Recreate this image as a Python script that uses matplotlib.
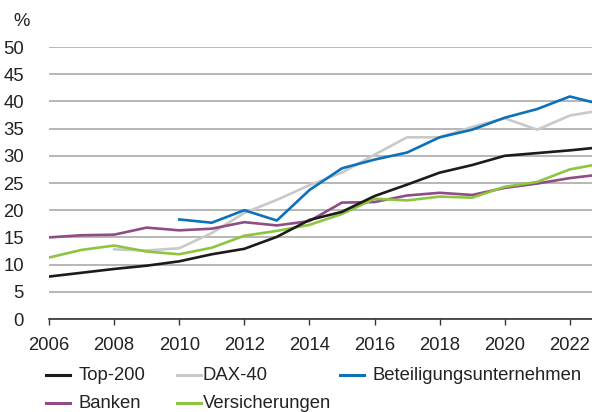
import matplotlib
matplotlib.use("Agg")
import matplotlib.pyplot as plt
from matplotlib.lines import Line2D

plt.rcParams['font.family'] = ['Liberation Sans', 'DejaVu Sans']

years = list(range(2006, 2024))
top200 = [7.8, 8.5, 9.2, 9.8, 10.6, 11.9, 12.9, 15.1, 18.2, 19.7, 22.6, 24.7, 26.9, 28.3, 30.0, 30.5, 31.0, 31.6]
dax_years = list(range(2008, 2024))
dax40 = [12.8, 12.6, 13.0, 15.8, 19.5, 21.9, 24.6, 26.9, 30.2, 33.4, 33.4, 35.3, 36.9, 34.8, 37.4, 38.4]
bet_years = list(range(2010, 2024))
beteiligung = [18.3, 17.7, 20.0, 18.1, 23.7, 27.7, 29.3, 30.6, 33.4, 34.8, 37.0, 38.6, 40.9, 39.4]
banken = [15.0, 15.4, 15.5, 16.8, 16.3, 16.6, 17.8, 17.2, 18.0, 21.4, 21.5, 22.7, 23.2, 22.8, 24.1, 24.9, 25.9, 26.6]
versicherungen = [11.3, 12.7, 13.5, 12.4, 11.9, 13.1, 15.3, 16.2, 17.3, 19.3, 22.1, 21.8, 22.5, 22.3, 24.3, 25.2, 27.5, 28.6]

names = ["Top-200", "DAX-40", "Beteiligungsunternehmen", "Banken", "Versicherungen"]
colors = ["#1c1a1b", "#c9c9c9", "#0b72b9", "#8f4c86", "#8dc540"]

x_ticks = list(range(2006, 2023, 2))
y_ticks = list(range(0, 51, 5))

W, H = 592, 412
fig = plt.figure(figsize=(W / 100, H / 100), dpi=100)
ax = fig.add_axes([49 / W, 1 - 319 / H, 1 - 49 / W, (319 - 47) / H])

lw = 1.9
ax.plot(dax_years, dax40, color=colors[1], lw=lw, zorder=3)
ax.plot(years, banken, color=colors[3], lw=lw, zorder=4)
ax.plot(years, versicherungen, color=colors[4], lw=lw, zorder=5)
ax.plot(years, top200, color=colors[0], lw=lw, zorder=6)
ax.plot(bet_years, beteiligung, color=colors[2], lw=lw, zorder=7)

ax.set_xlim(2006, 2006 + (W - 49) / 32.55)
ax.set_ylim(0, 50)
ax.set_xticks(x_ticks)
ax.set_yticks(y_ticks)
ax.set_xticklabels([str(v) for v in x_ticks], fontsize=13.3, color="#222222")
ax.set_yticklabels([str(v) for v in y_ticks], fontsize=13.3, color="#222222")
ax.tick_params(axis='y', length=0, pad=18)
ax.tick_params(axis='x', length=4, width=1, color="#333333", direction='out', pad=9)
for s in ['left', 'right', 'top']:
    ax.spines[s].set_visible(False)
ax.spines['bottom'].set_color("#333333")
ax.spines['bottom'].set_linewidth(1.2)
ax.yaxis.grid(True, color="#a3a3a3", lw=1.1)
ax.set_axisbelow(True)
ax.patch.set_alpha(0)

fig.text(13 / W, 1 - 21 / H, "%", fontsize=13.3, color="#222222", ha='left', va='center')

# legend
rows = [375, 403]
cols = [(46, 79), (177, 203), (340, 372)]
layout = [(0, 0), (0, 1), (0, 2), (1, 0), (1, 1)]
for name, color, (r, c) in zip(names, colors, layout):
    hx, tx = cols[c]
    y = 1 - rows[r] / H
    fig.add_artist(Line2D([hx / W, (hx + 24) / W], [y, y], color=color, lw=2.2,
                          transform=fig.transFigure))
    fig.text(tx / W, y, name, fontsize=13.3, color="#222222", ha='left', va='center')

fig.savefig("out.png", dpi=100)
